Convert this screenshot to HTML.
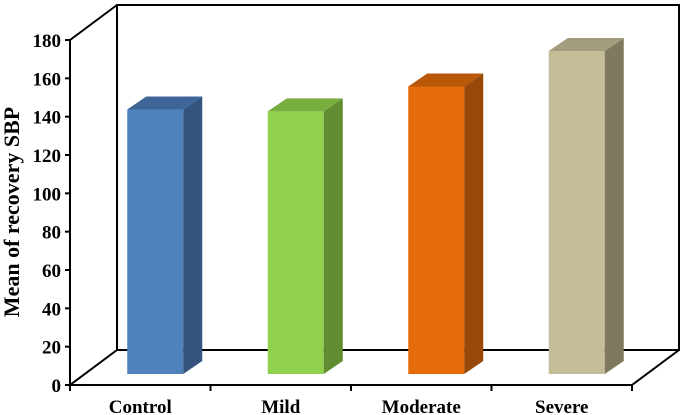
<!DOCTYPE html>
<html><head><meta charset="utf-8"><style>
html,body{margin:0;padding:0;background:#fff;}
svg{display:block;font-family:"Liberation Serif",serif;font-weight:bold;}
</style></head><body>
<svg id="chart" width="685" height="415" viewBox="0 0 685 415" xmlns="http://www.w3.org/2000/svg">
<g id="frame" stroke="#000" stroke-width="2" fill="none"></g>
<g id="bars"></g>
<g id="labels" font-size="19" fill="#000"></g>
<text transform="translate(19,212) rotate(-90)" text-anchor="middle" font-size="22">Mean of recovery SBP</text>
</svg>
<script>
const categories = ["Control","Mild","Moderate","Severe"];
const values = [138, 137, 150, 168.5];
const yTicks = [0,20,40,60,80,100,120,140,160,180];
const frontColors = ["#4f81bd","#92d050","#e46c0a","#c4bd97"];
const sideColors = ["#34537f","#628c30","#984807","#7f7a5f"];
const topColors = ["#3e6597","#78ae3d","#b85808","#a29d7c"];

const NS="http://www.w3.org/2000/svg";
const x0=70, x1=632, y0=385, yTop=40, dX=47, dY=-35;
function yScale(v){return y0-(v/180)*(y0-yTop);}
function xBand(i){return x0+(x1-x0)/categories.length*i;}
function mk(tag,attrs,parent){const e=document.createElementNS(NS,tag);for(const k in attrs)e.setAttribute(k,attrs[k]);parent.appendChild(e);return e;}
const frame=document.getElementById('frame');
let ax=mk('line',{x1:x0,y1:y0,x2:x0,y2:yTop},frame);


let bw=mk('polyline',{points:`${x0+dX},${y0+dY} ${x0+dX},${yTop+dY} ${x1+dX},${yTop+dY} ${x1+dX},${y0+dY} ${x0+dX},${y0+dY}`},frame);


let dl=mk('line',{x1:x0,y1:yTop,x2:x0+dX,y2:yTop+dY},frame);


let fl=mk('polyline',{points:`${x0+dX},${y0+dY} ${x0},${y0} ${x1},${y0} ${x1+dX},${y0+dY}`},frame);


const labels=document.getElementById('labels');
yTicks.forEach(t=>{
  const y=yScale(t);
  let tk=mk('line',{x1:x0-5,y1:y,x2:x0,y2:y},frame);
  
  
  let tx=mk('text',{x:x0-9,y:y+7,'text-anchor':'end'},labels);
  tx.textContent=t;
  
  
});
for(let i=0;i<=categories.length;i++){
  const x=xBand(i);
  let tk=mk('line',{x1:x,y1:y0,x2:x,y2:y0+6},frame);
  
  
}
const bars=document.getElementById('bars');
const bw0=(x1-x0)/categories.length, barW=56, bdx=19, bdy=-13, offX=15, offY=-11;
categories.forEach((c,i)=>{
  const left=xBand(i)+bw0/2-barW/2+offX;
  const bot=y0+offY;
  const top=bot-(values[i]/180)*(y0-yTop);
  const g=mk('g',{},bars);
  
  
  mk('rect',{x:left,y:top,width:barW,height:bot-top,fill:frontColors[i]},g);
  mk('polygon',{points:`${left+barW},${top} ${left+barW+bdx},${top+bdy} ${left+barW+bdx},${bot+bdy} ${left+barW},${bot}`,fill:sideColors[i]},g);
  mk('polygon',{points:`${left},${top} ${left+bdx},${top+bdy} ${left+barW+bdx},${top+bdy} ${left+barW},${top}`,fill:topColors[i]},g);
  let tx=mk('text',{x:xBand(i)+bw0/2,y:413,'text-anchor':'middle'},labels);
  tx.textContent=c;
  
  
});
</script>
</body></html>
